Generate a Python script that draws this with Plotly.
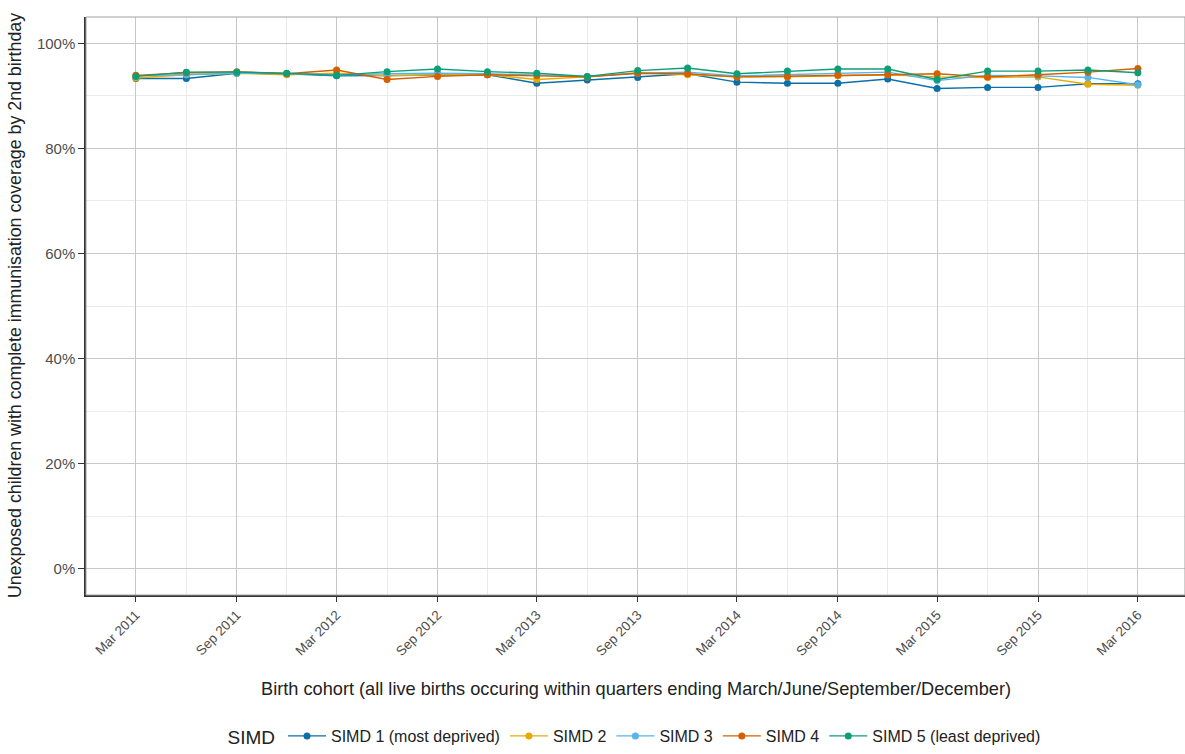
import plotly.graph_objects as go

quarters = ["2011-03-01", "2011-06-01", "2011-09-01", "2011-12-01",
            "2012-03-01", "2012-06-01", "2012-09-01", "2012-12-01",
            "2013-03-01", "2013-06-01", "2013-09-01", "2013-12-01",
            "2014-03-01", "2014-06-01", "2014-09-01", "2014-12-01",
            "2015-03-01", "2015-06-01", "2015-09-01", "2015-12-01",
            "2016-03-01"]

simd1 = [93.3, 93.3, 94.3, 94.2, 93.8, 93.9, 94.0, 94.0, 92.4, 93.0, 93.5,
         94.2, 92.6, 92.4, 92.4, 93.2, 91.4, 91.6, 91.6, 92.3, 92.3]
simd2 = [93.4, 94.0, 94.3, 94.0, 94.3, 93.8, 94.0, 94.0, 93.1, 93.6, 94.4,
         94.0, 93.6, 93.6, 93.8, 94.0, 93.6, 93.5, 93.6, 92.2, 92.0]
simd3 = [93.8, 94.0, 94.3, 94.2, 94.0, 94.2, 94.3, 94.2, 94.0, 93.7, 94.3,
         94.5, 93.8, 94.0, 94.2, 94.5, 92.9, 93.9, 93.8, 93.5, 92.1]
simd4 = [93.9, 94.4, 94.6, 94.2, 94.9, 93.1, 93.7, 94.0, 93.8, 93.6, 94.3,
         94.2, 93.6, 93.7, 93.9, 94.0, 94.2, 93.6, 94.0, 94.5, 95.2]
simd5 = [93.7, 94.5, 94.5, 94.3, 93.9, 94.6, 95.1, 94.6, 94.3, 93.7, 94.8,
         95.3, 94.2, 94.7, 95.1, 95.1, 93.1, 94.7, 94.7, 94.9, 94.4]

series_names = ["SIMD 1 (most deprived)", "SIMD 2", "SIMD 3", "SIMD 4",
                "SIMD 5 (least deprived)"]
series_values = [simd1, simd2, simd3, simd4, simd5]
colors = ["#0B6FA8", "#E6AB02", "#56B4E9", "#D55E00", "#0E9E76"]

yticks = [0, 20, 40, 60, 80, 100]
ytick_labels = ["0%", "20%", "40%", "60%", "80%", "100%"]

fig = go.Figure()
for name, vals, col in zip(series_names, series_values, colors):
    fig.add_trace(go.Scatter(
        x=quarters, y=vals, name=name, mode="lines+markers",
        line=dict(color=col, width=1.4),
        marker=dict(color=col, size=7),
    ))

fig.update_layout(
    width=1185, height=754,
    margin=dict(l=86, r=0, t=17, b=158),
    plot_bgcolor="white", paper_bgcolor="white",
    font=dict(family="Liberation Sans, Arial, sans-serif", color="#4D4D4D"),
    showlegend=True,
    legend=dict(
        orientation="h", x=0.5, xanchor="center", y=-0.245, yanchor="middle",
        title=dict(text="SIMD", font=dict(size=19, color="#222")),
        font=dict(size=16, color="#222"),
        itemwidth=38,
    ),
)

fig.update_xaxes(
    type="date",
    range=["2010-11-30", "2016-05-26"],
    tick0="2011-03-01", dtick="M6", tickformat="%b %Y",
    tickangle=-45, tickfont=dict(size=13.5, color="#4D4D4D"),
    ticks="outside", ticklen=5, tickcolor="#333",
    showgrid=True, gridcolor="#C8C8C8", gridwidth=1,
    minor=dict(dtick="M3", tick0="2011-03-01", showgrid=True,
               gridcolor="#EBEBEB", gridwidth=1),
    showline=True, linecolor="#333", linewidth=1.5, mirror=False,
    zeroline=False, automargin=False,
)
fig.update_yaxes(
    range=[-5, 105],
    tickvals=yticks, ticktext=ytick_labels,
    tickfont=dict(size=15, color="#4D4D4D"),
    ticks="outside", ticklen=6, tickcolor="#333",
    showgrid=True, gridcolor="#C8C8C8", gridwidth=1,
    minor=dict(tickvals=[10, 30, 50, 70, 90], showgrid=True,
               gridcolor="#EBEBEB", gridwidth=1),
    showline=True, linecolor="#333", linewidth=1.5,
    zeroline=False, automargin=False,
)

# panel border (top/right)
fig.add_shape(type="rect", xref="paper", yref="paper", x0=0, y0=0, x1=1, y1=1,
              line=dict(color="#A0A0A0", width=1), layer="above")

fig.add_annotation(
    text="Birth cohort (all live births occuring within quarters ending March/June/September/December)",
    xref="paper", yref="paper", x=0.5, y=0, yshift=-94, showarrow=False,
    xanchor="center", yanchor="middle", font=dict(size=18.2, color="#222"))
fig.add_annotation(
    text="Unexposed children with complete immunisation coverage by 2nd birthday",
    xref="paper", yref="paper", x=0, xshift=-71, y=0.5, showarrow=False,
    textangle=-90, xanchor="center", yanchor="middle",
    font=dict(size=17.8, color="#222"))

fig.write_html("out.html", config={"displayModeBar": False},
               post_script="document.body.style.margin='0px';")
